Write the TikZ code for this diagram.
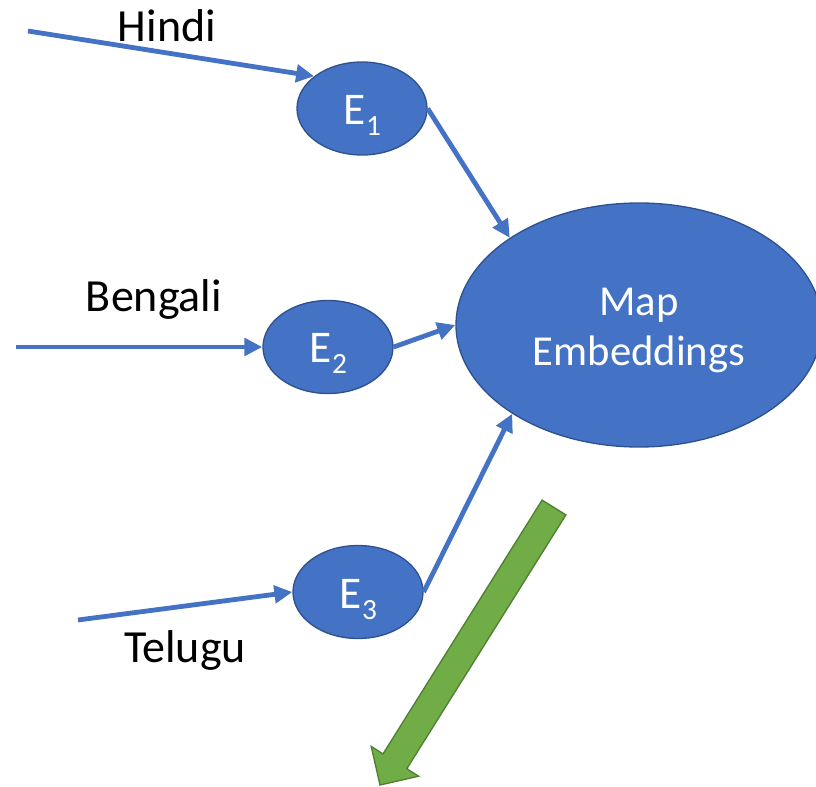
\documentclass[tikz,border=0pt]{standalone}
\usepackage{fontspec}
\setmainfont{Carlito}
\usetikzlibrary{arrows.meta,shapes.geometric}
\definecolor{encblue}{HTML}{4472C4}
\definecolor{encborder}{HTML}{2F528F}
\definecolor{outgreen}{HTML}{70AD47}
\definecolor{outborder}{HTML}{507E32}
\newcommand{\encsub}[1]{E\kern0.6pt\raisebox{-8.25pt}{\fontsize{22}{22}\selectfont #1}}
\begin{document}
\begin{tikzpicture}[x=0.75pt,y=-0.75pt,
  encoder/.style={ellipse, fill=encblue, draw=encborder, line width=1pt,
    minimum width=97.5pt, minimum height=69.75pt, inner sep=0pt,
    text=white, font=\fontsize{34}{40}\selectfont, text height=24pt, text depth=0pt},
  mapper/.style={ellipse, fill=encblue, draw=encborder, line width=1pt,
    minimum width=274.5pt, minimum height=183pt, inner sep=0pt,
    text=white, font=\fontsize{32}{37.5}\selectfont, align=center},
  lang/.style={anchor=base, font=\fontsize{34.5}{40}\selectfont, text=black, inner sep=0pt},
  feed/.style={draw=encblue, line width=3.6pt, -{Triangle[length=13.5pt,width=13pt]}}]
\useasboundingbox (0,0) rectangle (816,787);

% encoders and the shared mapping stage
\node[encoder] (e1) at (362,108.5) {\encsub{1}};
\node[encoder] (e2) at (328,347) {\encsub{2}};
\node[encoder] (e3) at (358,592) {\encsub{3}};
\node[mapper] (map) at (639,325) {\rule{0pt}{29pt}Map\\Embeddings};

% input languages
\node[lang] (hindi) at (167,42) {Hindi};
\node[lang] (bengali) at (154,312) {Bengali};
\node[lang] (telugu) at (185,662) {Telugu};

\coordinate (hin) at (28,31);
\coordinate (ben) at (16,347);
\coordinate (tel) at (78,620);

% input arrows
\draw[feed] (hin) -- (e1.146);
\draw[feed] (ben) -- (e2.west);
\draw[feed] (tel) -- (e3.west);

% encoder outputs into the mapping stage
\draw[feed] (e1.east) -- (map.146);
\draw[feed] (e2.east) -- (map.west);
\draw[feed] (e3.east) -- (map.215);

% output block arrow
\draw[fill=outgreen, draw=outborder, line width=1pt, line join=miter]
  (542.1,500.1) -- (565.9,514.9) -- (406.8,768.7) -- (418.6,776.2)
  -- (380,785) -- (371.2,746.4) -- (383.0,753.9) -- cycle;
\end{tikzpicture}
\end{document}
